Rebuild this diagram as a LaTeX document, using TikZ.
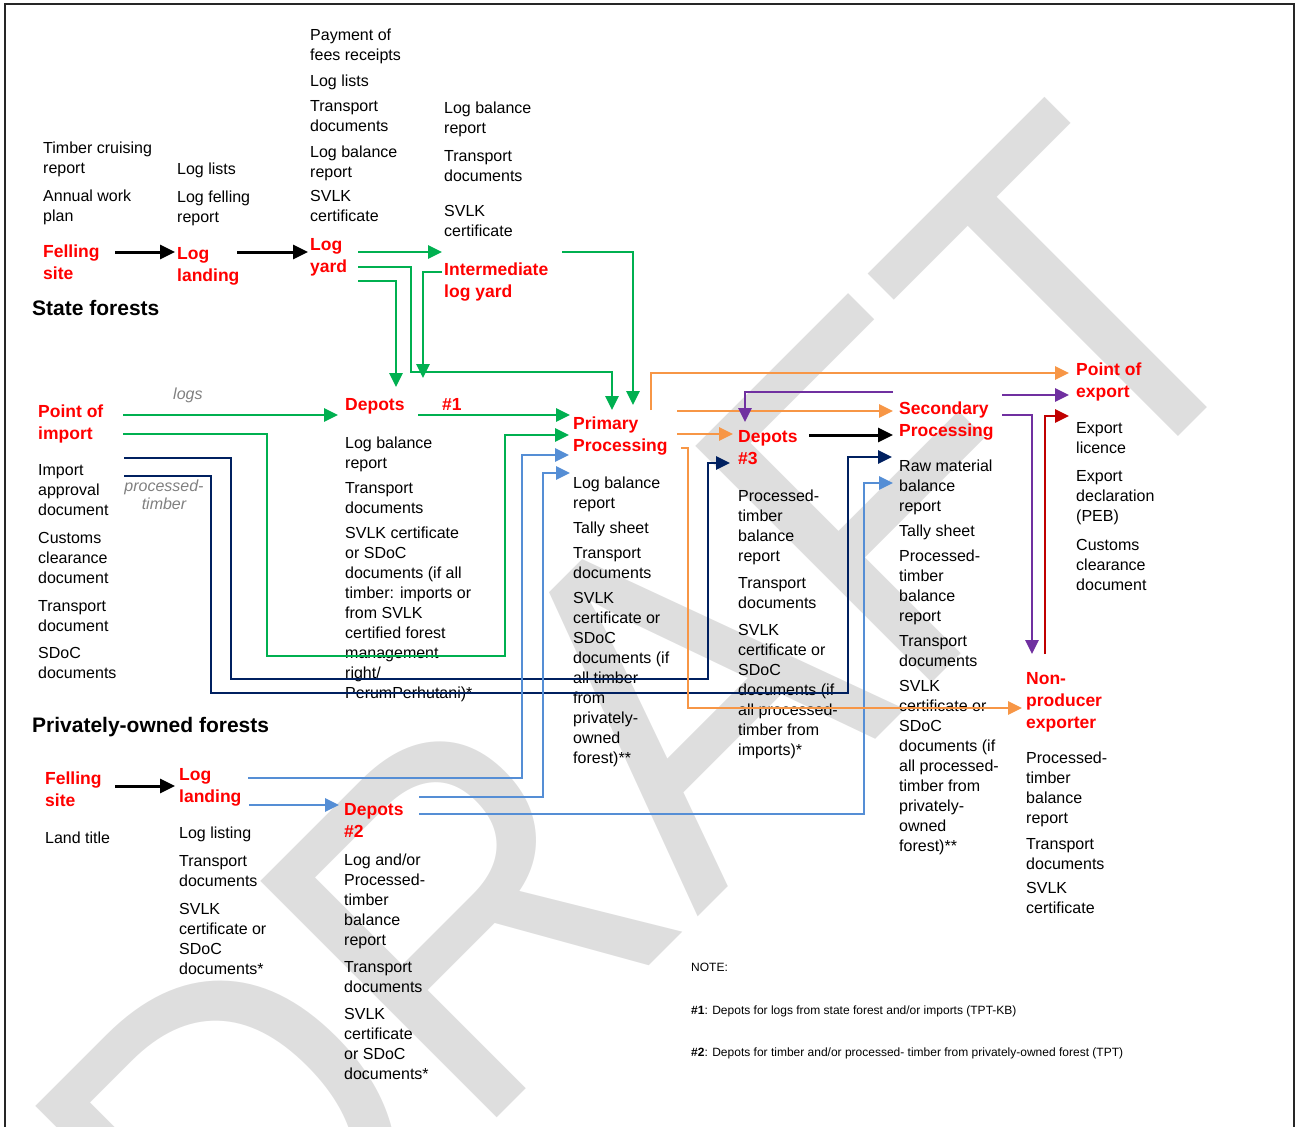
\documentclass[tikz,border=0pt]{standalone}
\usepackage{fontspec}
\setmainfont{Liberation Sans}
\usepackage{graphicx}
\usetikzlibrary{arrows.meta}
\definecolor{cG}{RGB}{0,176,80}
\definecolor{cN}{RGB}{0,32,96}
\definecolor{cL}{RGB}{85,142,213}
\definecolor{cO}{RGB}{247,150,70}
\definecolor{cP}{RGB}{112,48,160}
\definecolor{cR}{RGB}{192,0,0}
\definecolor{cW}{RGB}{222,222,222}
\definecolor{cT}{RGB}{255,0,0}
\newcommand{\capht}{\rule{0pt}{0.716em}}
\begin{document}
\begin{tikzpicture}[x=1pt,y=-1pt,
  body/.style={anchor=north west, inner sep=0pt, align=left, font={\fontsize{16}{20}\selectfont}},
  lbl/.style={anchor=north west, inner sep=0pt, align=left, text=cT, font={\fontsize{17.5}{22}\selectfont\bfseries}},
  head/.style={anchor=north west, inner sep=0pt, font={\fontsize{21}{25}\selectfont\bfseries}},
  notetxt/.style={anchor=north west, inner sep=0pt, font={\fontsize{12}{14}\selectfont}},
  greylbl/.style={inner sep=0pt, align=center, text=black!50, font={\fontsize{16}{18}\selectfont\itshape}},
  flow/.style={line width=2.7pt, -{Triangle[length=14pt,width=13pt]}},
  flowk/.style={flow, black, line width=3pt, -{Triangle[length=15pt,width=14pt]}},
  flowg/.style={flow, cG},
  flown/.style={flow, cN},
  flowl/.style={flow, cL},
  flowo/.style={flow, cO},
  flowp/.style={flow, cP},
  flowr/.style={flow, cR},
]
\useasboundingbox (0,0) rectangle (1296,1127);
% watermark
\begin{scope}
\clip (0,0) rectangle (1296,1127);
\node[anchor=base west, inner sep=0pt, rotate=45, text=cW, font={\fontsize{486}{486}\selectfont}] (wmark) at (246,1369) {\scalebox{0.91}[1]{DRAFT}};
\end{scope}
% frame
\draw[line width=2pt, black!85] (5,1140) -- (5,4) -- (1294,4) -- (1294,1140);

% headings
\node[head] (hstate) at (32,300) {\capht State forests};
\node[head] (hpriv) at (32,717) {\capht Privately-owned forests};

% red labels
\node[lbl] (fell1) at (43,245) {\capht Felling\\site};
\node[lbl] (land1) at (177,247) {\capht Log\\landing};
\node[lbl] (yard) at (310,238) {\capht Log\\yard};
\node[lbl] (inter) at (444,263) {\capht Intermediate\\log yard};
\node[lbl] (dep1) at (345,398) {\capht Depots};
\node[lbl] (hash1) at (442,398) {\capht\#1};
\node[lbl] (pimp) at (38,405) {\capht Point of\\import};
\node[lbl] (prim) at (573,417) {\capht Primary\\Processing};
\node[lbl] (dep3) at (738,430) {\capht Depots\\\#3};
\node[lbl] (sec) at (899,402) {\capht Secondary\\Processing};
\node[lbl] (pexp) at (1076,363) {\capht Point of\\export};
\node[lbl] (npe) at (1026,672) {\capht Non-\\producer\\exporter};
\node[lbl] (fell2) at (45,772) {\capht Felling\\site};
\node[lbl] (land2) at (179,768) {\capht Log\\landing};
\node[lbl] (dep2) at (344,803) {\capht Depots\\\#2};

% grey labels
\node[greylbl, anchor=north west] (glogs) at (173,388) {\capht logs};
\node[greylbl, anchor=north] (gproc) at (164,480) {\capht processed-\\timber};

% document lists
\node[body] (t-tc) at (43,142) {\capht Timber cruising\\report\\[8pt]Annual work\\plan};
\node[body] (t-ll) at (177,163) {\capht Log lists\\[8pt]Log felling\\report};
\node[body] (t-pay) at (310,29) {\capht Payment of\\fees receipts\\[6pt]Log lists\\[5pt]Transport\\documents\\[6pt]Log balance\\report\\[4pt]SVLK\\certificate};
\node[body] (t-lb) at (444,102) {\capht Log balance\\report\\[8pt]Transport\\documents\\[15pt]SVLK\\certificate};
\node[body] (t-imp) at (38,464) {\capht Import\\approval\\document\\[8pt]Customs\\clearance\\document\\[8pt]Transport\\document\\[7pt]SDoC\\documents};
\node[body] (t-d1) at (345,437) {\capht Log balance\\report\\[5pt]Transport\\documents\\[5pt]SVLK certificate\\or SDoC\\documents (if all\\timber: imports or\\from SVLK\\certified forest\\management\\right/\\PerumPerhutani)*};
\node[body] (t-pp) at (573,477) {\capht Log balance\\report\\[5pt]Tally sheet\\[5pt]Transport\\documents\\[5pt]SVLK\\certificate or\\SDoC\\documents (if\\all timber\\from\\privately-\\owned\\forest)**};
\node[body] (t-d3) at (738,490) {\capht Processed-\\timber\\balance\\report\\[7pt]Transport\\documents\\[7pt]SVLK\\certificate or\\SDoC\\documents (if\\all processed-\\timber from\\imports)*};
\node[body] (t-sp) at (899,460) {\capht Raw material\\balance\\report\\[5pt]Tally sheet\\[5pt]Processed-\\timber\\balance\\report\\[5pt]Transport\\documents\\[5pt]SVLK\\certificate or\\SDoC\\documents (if\\all processed-\\timber from\\privately-\\owned\\forest)**};
\node[body] (t-exp) at (1076,422) {\capht Export\\licence\\[8pt]Export\\declaration\\(PEB)\\[9pt]Customs\\clearance\\document};
\node[body] (t-np) at (1026,752) {\capht Processed-\\timber\\balance\\report\\[6pt]Transport\\documents\\[4pt]SVLK\\certificate};
\node[body] (t-lt) at (45,832) {\capht Land title};
\node[body] (t-lls) at (179,827) {\capht Log listing\\[8pt]Transport\\documents\\[8pt]SVLK\\certificate or\\SDoC\\documents*};
\node[body] (t-d2) at (344,854) {\capht Log and/or\\Processed-\\timber\\balance\\report\\[7pt]Transport\\documents\\[7pt]SVLK\\certificate\\or SDoC\\documents*};

% notes
\node[notetxt] (note0) at (691,963) {\capht NOTE:};
\node[notetxt] (note1) at (691,1006) {\capht\textbf{\#1}: Depots for logs from state forest and/or imports (TPT-KB)};
\node[notetxt] (note2) at (691,1048) {\capht\textbf{\#2}: Depots for timber and/or processed- timber from privately-owned forest (TPT)};

% connector end points
\coordinate (b1s) at (115,252); \coordinate (b1e) at (175,252);
\coordinate (b2s) at (237,252); \coordinate (b2e) at (308,252);
\coordinate (b3s) at (809,435); \coordinate (b3e) at (893,435);
\coordinate (b4s) at (115,786); \coordinate (b4e) at (175,786);
\coordinate (g1s) at (358,252); \coordinate (g1e) at (442,252);
\coordinate (g2s) at (358,267); \coordinate (g2e) at (612,410);
\coordinate (g3s) at (358,281); \coordinate (g3e) at (396,387);
\coordinate (g4s) at (442,272); \coordinate (g4e) at (423,378);
\coordinate (g5s) at (562,252); \coordinate (g5e) at (633,405);
\coordinate (g6s) at (123,415); \coordinate (g6e) at (338,415);
\coordinate (g7s) at (418,415); \coordinate (g7e) at (570,415);
\coordinate (g8s) at (123,434); \coordinate (g8e) at (569,435);
\coordinate (n1s) at (124,458); \coordinate (n1e) at (730,463);
\coordinate (n2s) at (124,476); \coordinate (n2e) at (892,457);
\coordinate (l1s) at (248,778); \coordinate (l1e) at (569,455);
\coordinate (l2s) at (249,805); \coordinate (l2e) at (339,805);
\coordinate (l3s) at (419,797); \coordinate (l3e) at (570,473);
\coordinate (l4s) at (419,814); \coordinate (l4e) at (893,483);
\coordinate (o1s) at (651,410); \coordinate (o1e) at (1069,373);
\coordinate (o2s) at (677,411); \coordinate (o2e) at (893,411);
\coordinate (o3s) at (677,434); \coordinate (o3e) at (733,434);
\coordinate (o4s) at (681,448); \coordinate (o4e) at (1022,708);
\coordinate (p1s) at (893,392); \coordinate (p1e) at (745,422);
\coordinate (p2s) at (1002,395); \coordinate (p2e) at (1069,395);
\coordinate (p3s) at (1002,415); \coordinate (p3e) at (1032,654);
\coordinate (r1s) at (1045,654); \coordinate (r1e) at (1069,416);

% connectors
\draw[flowk] (b1s) -- (b1e);
\draw[flowk] (b2s) -- (b2e);
\draw[flowk] (b3s) -- (b3e);
\draw[flowk] (b4s) -- (b4e);

\draw[flowg] (g1s) -- (g1e);
\draw[flowg] (g2s) -| (411,372) -| (g2e);
\draw[flowg] (g3s) -| (g3e);
\draw[flowg] (g4s) -| (g4e);
\draw[flowg] (g5s) -| (g5e);
\draw[flowg] (g6s) -- (g6e);
\draw[flowg] (g7s) -- (g7e);
\draw[flowg] (g8s) -| (267,656) -| (505,435) -- (g8e);

\draw[flown] (n1s) -| (231,679) -| (708,463) -- (n1e);
\draw[flown] (n2s) -| (211,693) -| (848,457) -- (n2e);

\draw[flowl] (l1s) -| (522,455) -- (l1e);
\draw[flowl] (l2s) -- (l2e);
\draw[flowl] (l3s) -| (543,473) -- (l3e);
\draw[flowl] (l4s) -| (864,483) -- (l4e);

\draw[flowo] (o1s) |- (o1e);
\draw[flowo] (o2s) -- (o2e);
\draw[flowo] (o3s) -- (o3e);
\draw[flowo] (o4s) -| (688,708) -- (o4e);

\draw[flowp] (p1s) -| (p1e);
\draw[flowp] (p2s) -- (p2e);
\draw[flowp] (p3s) -| (p3e);

\draw[flowr] (r1s) |- (r1e);
\end{tikzpicture}
\end{document}
